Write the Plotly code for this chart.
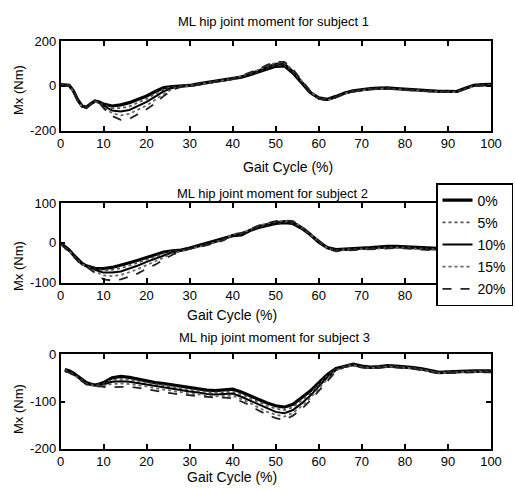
import plotly.graph_objects as go

W, H = 515, 493

# ---------------- data ----------------
X = [0, 1, 2, 3, 4, 5, 6, 7, 8, 9, 10,
     12, 14, 16, 18, 20, 22, 24, 26, 28, 30,
     32, 34, 36, 38, 40, 42, 44, 46, 48, 50,
     52, 54, 56, 58, 60, 62, 64, 66, 68, 70,
     72, 74, 76, 78, 80, 82, 84, 86, 88, 90,
     92, 94, 96, 98, 100]

series_names = ["0%", "5%", "10%", "15%", "20%"]

S1_0 = [6, 6, 3, -22, -62, -90, -96, -80, -68, -72, -82,
        -90, -85, -75, -60, -45, -25, -8, -3, 0, 2,
        9, 15, 21, 25, 30, 39, 50, 62, 76, 88,
        90, 58, 14, -30, -54, -60, -47, -32, -22, -16,
        -12, -10, -9, -12, -15, -18, -20, -22, -24, -24,
        -25, -10, 3, 6, 7]
S1_5 = [5, 5, 2, -24, -64, -92, -97, -81, -70, -73, -86,
        -100, -100, -92, -75, -58, -36, -15, -5, -1, 1,
        8, 14, 20, 25, 31, 41, 53, 66, 82, 94,
        95, 62, 17, -28, -55, -62, -49, -33, -23, -17,
        -13, -11, -10, -13, -16, -19, -21, -23, -25, -25,
        -26, -12, 1, 4, 5]
S1_10 = [4, 4, 1, -25, -65, -93, -98, -82, -71, -74, -90,
         -110, -115, -108, -90, -72, -48, -24, -9, -2, 0,
         7, 13, 19, 24, 31, 42, 55, 69, 86, 99,
         100, 66, 20, -26, -56, -63, -50, -34, -24, -18,
         -14, -12, -11, -14, -17, -20, -22, -24, -26, -26,
         -27, -13, 0, 3, 4]
S1_15 = [3, 3, 0, -27, -66, -94, -99, -83, -72, -75, -95,
         -122, -132, -125, -108, -88, -62, -35, -14, -3, -1,
         6, 12, 18, 24, 32, 44, 57, 72, 90, 104,
         104, 70, 23, -24, -57, -64, -51, -35, -25, -19,
         -15, -13, -12, -15, -18, -21, -23, -25, -27, -27,
         -28, -14, -1, 2, 3]
S1_20 = [2, 2, -1, -28, -67, -95, -100, -84, -73, -76, -100,
         -135, -152, -148, -128, -105, -78, -45, -18, -4, -2,
         5, 11, 17, 23, 32, 45, 59, 75, 94, 108,
         108, 74, 26, -22, -58, -66, -52, -36, -26, -20,
         -16, -14, -13, -16, -19, -22, -24, -26, -28, -28,
         -29, -15, -2, 1, 2]

S2_0 = [0, -8, -18, -30, -42, -52, -58, -62, -64, -65, -65,
        -62, -57, -50, -44, -37, -31, -23, -20, -18, -13,
        -7, -2, 4, 10, 18, 20, 31, 39, 44, 49,
        51, 49, 37, 21, 2, -12, -17, -15, -14, -13,
        -12, -10, -9, -9, -10, -12, -13, -14, -15, -15,
        -15, -15, -15, -15, -15]
S2_5 = [-1, -9, -19, -31, -43, -53, -58, -63, -66, -68, -69,
        -68, -64, -57, -50, -42, -35, -27, -22, -19, -14,
        -8, -3, 3, 10, 19, 22, 32, 41, 46, 51,
        53, 51, 38, 22, 3, -12, -18, -16, -15, -14,
        -13, -11, -10, -10, -11, -13, -14, -15, -16, -16,
        -16, -16, -16, -16, -16]
S2_10 = [-1, -10, -20, -32, -44, -54, -59, -64, -69, -72, -75,
         -75, -72, -65, -57, -48, -40, -31, -24, -20, -14,
         -9, -4, 2, 9, 20, 23, 33, 42, 48, 52,
         55, 53, 40, 23, 4, -13, -19, -17, -16, -15,
         -14, -12, -11, -11, -12, -14, -15, -16, -17, -17,
         -17, -17, -17, -17, -17]
S2_15 = [-2, -11, -21, -33, -45, -55, -59, -66, -72, -77, -82,
         -84, -81, -74, -66, -56, -47, -36, -27, -21, -15,
         -10, -5, 1, 8, 21, 24, 34, 43, 49, 54,
         56, 54, 41, 24, 5, -14, -20, -18, -17, -16,
         -15, -13, -12, -12, -13, -15, -16, -17, -18, -18,
         -18, -18, -18, -18, -18]
S2_20 = [-2, -12, -22, -34, -46, -56, -60, -68, -76, -84, -92,
         -95, -92, -85, -77, -65, -55, -42, -30, -22, -15,
         -11, -6, 0, 7, 22, 25, 35, 44, 50, 55,
         57, 55, 42, 25, 6, -15, -21, -19, -18, -17,
         -16, -14, -13, -13, -14, -16, -17, -18, -19, -19,
         -19, -19, -19, -19, -19]

S3_0 = [None, -32, -35, -40, -47, -54, -60, -63, -65, -63, -60,
        -50, -47, -49, -53, -56, -60, -62, -65, -68, -71,
        -73, -76, -77, -76, -74, -80, -88, -96, -103, -109,
        -112, -106, -92, -78, -60, -43, -30, -25, -21, -25,
        -27, -26, -24, -25, -26, -28, -31, -35, -38, -37,
        -36, -35, -35, -35, -35]
S3_5 = [None, -33, -36, -41, -48, -55, -61, -64, -65, -64, -62,
        -54, -52, -54, -57, -60, -64, -66, -69, -72, -75,
        -77, -80, -81, -80, -79, -85, -93, -101, -109, -115,
        -118, -112, -98, -83, -64, -46, -32, -25, -22, -26,
        -28, -27, -25, -26, -27, -29, -32, -36, -39, -38,
        -37, -36, -36, -36, -36]
S3_10 = [None, -34, -37, -42, -49, -56, -62, -65, -66, -65, -64,
         -58, -57, -58, -61, -64, -68, -70, -73, -76, -79,
         -81, -84, -85, -84, -83, -90, -98, -107, -115, -122,
         -125, -118, -104, -88, -68, -49, -33, -26, -23, -27,
         -29, -28, -26, -27, -28, -30, -33, -37, -40, -39,
         -38, -37, -37, -37, -37]
S3_15 = [None, -35, -38, -43, -50, -57, -63, -66, -66, -66, -66,
         -63, -62, -63, -65, -68, -72, -75, -78, -81, -83,
         -85, -87, -89, -88, -88, -95, -103, -113, -122, -128,
         -132, -124, -110, -93, -72, -52, -34, -26, -23, -27,
         -29, -28, -26, -27, -28, -30, -33, -37, -40, -39,
         -38, -37, -37, -37, -37]
S3_20 = [None, -36, -39, -44, -51, -58, -64, -67, -67, -68, -69,
         -70, -69, -69, -71, -74, -78, -80, -83, -85, -87,
         -89, -90, -92, -92, -93, -100, -108, -119, -128, -135,
         -139, -130, -116, -98, -77, -56, -36, -27, -24, -28,
         -30, -29, -27, -28, -29, -31, -34, -38, -41, -40,
         -39, -38, -38, -38, -38]

subjects = [
    [S1_0, S1_5, S1_10, S1_15, S1_20],
    [S2_0, S2_5, S2_10, S2_15, S2_20],
    [S3_0, S3_5, S3_10, S3_15, S3_20],
]
titles = ["ML hip joint moment for subject 1",
          "ML hip joint moment for subject 2",
          "ML hip joint moment for subject 3"]
x_ticks = [0, 10, 20, 30, 40, 50, 60, 70, 80, 90, 100]
x_ticktext_full = ["0", "10", "20", "30", "40", "50", "60", "70", "80", "90", "100"]
# in subject 2 the legend box hides the last two labels
x_ticktext_s2 = ["0", "10", "20", "30", "40", "50", "60", "70", "80", "", ""]
y_ranges = [[-200, 200], [-100, 100], [-200, 0]]
y_ticks = [[-200, 0, 200], [-100, 0, 100], [-200, -100, 0]]
y_ticktext = [["-200", "0", "200"], ["-100", "0", "100"], ["-200", "-100", "0"]]

# ---------------- styling ----------------
styles = [
    dict(color="#000000", width=3.2, dash="solid"),
    dict(color="#555555", width=1.8, dash="dot"),
    dict(color="#000000", width=2.0, dash="solid"),
    dict(color="#666666", width=1.8, dash="dot"),
    dict(color="#222222", width=1.8, dash="dash"),
]

def px(x):
    return x / W

def py(y):
    return 1 - y / H

x_dom = [px(60.5), px(491)]
y_doms = [[py(130.5), py(41.3)], [py(282.5), py(203.3)], [py(448.7), py(354.3)]]

TICKFONT = dict(family="Liberation Sans, Arial", size=13, color="black")
TXTFONT = dict(family="Liberation Sans, Arial", size=13, color="black")

fig = go.Figure()
for si, subj in enumerate(subjects):
    axn = "" if si == 0 else str(si + 1)
    for k, ys in enumerate(subj):
        fig.add_trace(go.Scatter(
            x=X, y=ys, mode="lines", name=series_names[k],
            line=dict(**styles[k]),
            xaxis="x" + axn, yaxis="y" + axn,
            legendgroup=series_names[k], showlegend=(si == 0),
            connectgaps=False,
        ))

layout = dict(
    width=W, height=H,
    margin=dict(l=0, r=0, t=0, b=0, autoexpand=False),
    paper_bgcolor="white", plot_bgcolor="white",
    showlegend=True,
    legend=dict(x=px(436), y=py(183), xanchor="left", yanchor="top",
                bgcolor="white", bordercolor="black", borderwidth=1.5,
                font=dict(family="Liberation Sans, Arial", size=14, color="black"),
                tracegroupgap=1),
)
for si in range(3):
    axn = "" if si == 0 else str(si + 1)
    layout["xaxis" + axn] = dict(
        domain=x_dom, range=[0, 100], tickvals=x_ticks,
        ticktext=(x_ticktext_s2 if si == 1 else x_ticktext_full),
        ticks="inside", ticklen=5, tickwidth=1.5, tickcolor="black",
        showline=True, linecolor="black", linewidth=1.5, mirror="ticks",
        showgrid=False, zeroline=False, tickfont=TICKFONT,
        anchor="y" + axn,
    )
    layout["yaxis" + axn] = dict(
        domain=y_doms[si], range=y_ranges[si], tickvals=y_ticks[si], ticktext=y_ticktext[si],
        ticks="inside", ticklen=5, tickwidth=1.5, tickcolor="black",
        showline=True, linecolor="black", linewidth=1.5, mirror="ticks",
        showgrid=False, zeroline=False, tickfont=TICKFONT,
        anchor="x" + axn,
    )
fig.update_layout(**layout)

# titles and axis labels as annotations
title_pos = [(273, 22), (272, 193), (274, 337)]
xlabel_pos = [(288, 166.5), (232, 315), (232, 476.5)]
ylabel_pos = [(18, 90), (18, 266), (18, 409)]
for si in range(3):
    fig.add_annotation(text=titles[si], x=px(title_pos[si][0]), y=py(title_pos[si][1]),
                       xref="paper", yref="paper", showarrow=False,
                       xanchor="center", yanchor="middle", font=TXTFONT)
    fig.add_annotation(text="Gait Cycle (%)", x=px(xlabel_pos[si][0]), y=py(xlabel_pos[si][1]),
                       xref="paper", yref="paper", showarrow=False,
                       xanchor="center", yanchor="middle", font=dict(TXTFONT, size=14))
    fig.add_annotation(text="Mx (Nm)", x=px(ylabel_pos[si][0]), y=py(ylabel_pos[si][1]),
                       xref="paper", yref="paper", showarrow=False, textangle=-90,
                       xanchor="center", yanchor="middle", font=TXTFONT)

fig.write_html("out.html")
